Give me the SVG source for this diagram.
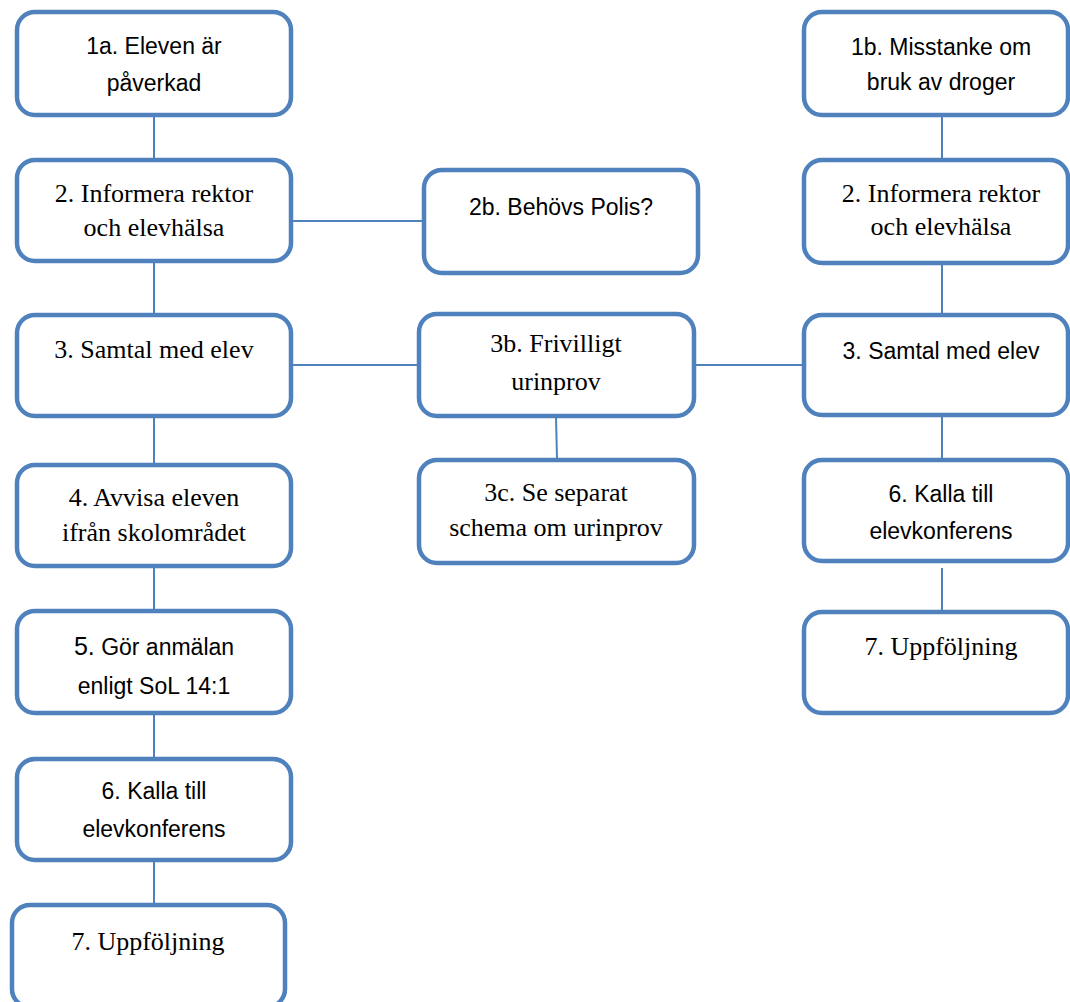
<svg xmlns="http://www.w3.org/2000/svg" width="1070" height="1002" viewBox="0 0 1070 1002">
<style>
.box{fill:#fff;stroke:#4F81BD;stroke-width:4.5}
.ln{stroke:#4F81BD;stroke-width:2;fill:none}
.s{font-family:"Liberation Sans",Arial,sans-serif;font-size:23px;fill:#000;text-anchor:middle}
.t{font-family:"Liberation Serif","Times New Roman",serif;font-size:26px;fill:#000;text-anchor:middle}
</style>
<rect width="1070" height="1002" fill="#fff"/>
<g id="connectors">
<line class="ln" x1="154" y1="116" x2="154" y2="159"/>
<line class="ln" x1="292" y1="221" x2="423" y2="221"/>
<line class="ln" x1="154" y1="262" x2="154" y2="314"/>
<line class="ln" x1="292" y1="365" x2="418" y2="365"/>
<line class="ln" x1="695" y1="365" x2="804" y2="365"/>
<line class="ln" x1="556" y1="417" x2="557" y2="459"/>
<line class="ln" x1="154" y1="417" x2="154" y2="464"/>
<line class="ln" x1="154" y1="567" x2="154" y2="610"/>
<line class="ln" x1="154" y1="714" x2="154" y2="758"/>
<line class="ln" x1="154" y1="861" x2="154" y2="904"/>
<line class="ln" x1="942" y1="116" x2="942" y2="159"/>
<line class="ln" x1="942" y1="264" x2="942" y2="314"/>
<line class="ln" x1="942" y1="416" x2="942" y2="459"/>
<line class="ln" x1="942" y1="568" x2="942" y2="611"/>
</g>
<g id="n1a"><rect class="box" x="17" y="12" width="274" height="103" rx="18"/>
<text class="s" x="154" y="54">1a. Eleven är</text><text class="s" x="154" y="91">påverkad</text></g>
<g id="n2L"><rect class="box" x="17" y="160" width="274" height="101" rx="18"/>
<text class="t" x="154" y="202">2. Informera rektor</text><text class="t" x="154" y="236">och elevhälsa</text></g>
<g id="n2b"><rect class="box" x="424" y="170" width="274" height="103" rx="18"/>
<text class="s" x="561" y="215">2b. Behövs Polis?</text></g>
<g id="n3L"><rect class="box" x="17" y="315" width="274" height="101" rx="18"/>
<text class="t" x="154" y="358">3. Samtal med elev</text></g>
<g id="n3b"><rect class="box" x="419" y="314" width="275" height="102" rx="18"/>
<text class="t" x="556" y="352">3b. Frivilligt</text><text class="t" x="556" y="390">urinprov</text></g>
<g id="n3c"><rect class="box" x="419" y="460" width="275" height="103" rx="18"/>
<text class="t" x="556" y="501">3c. Se separat</text><text class="t" x="556" y="536">schema om urinprov</text></g>
<g id="n4L"><rect class="box" x="17" y="465" width="274" height="101" rx="18"/>
<text class="t" x="154" y="506">4. Avvisa eleven</text><text class="t" x="154" y="541">ifrån skolområdet</text></g>
<g id="n5L"><rect class="box" x="17" y="611" width="274" height="102" rx="18"/>
<text class="s" x="154" y="655"><tspan font-size="25">5.</tspan> Gör anmälan</text><text class="s" x="154" y="694">enligt SoL 14:1</text></g>
<g id="n6L"><rect class="box" x="17" y="759" width="274" height="101" rx="18"/>
<text class="s" x="154" y="799">6. Kalla till</text><text class="s" x="154" y="837">elevkonferens</text></g>
<g id="n7L"><rect class="box" x="12" y="905" width="273" height="102" rx="18"/>
<text class="t" x="148" y="950">7. Uppföljning</text></g>
<g id="n1b"><rect class="box" x="804" y="12" width="264" height="103" rx="18"/>
<text class="s" x="941" y="55">1b. Misstanke om</text><text class="s" x="941" y="90">bruk av droger</text></g>
<g id="n2R"><rect class="box" x="804" y="160" width="264" height="103" rx="18"/>
<text class="t" x="941" y="202">2. Informera rektor</text><text class="t" x="941" y="235">och elevhälsa</text></g>
<g id="n3R"><rect class="box" x="804" y="315" width="264" height="100" rx="18"/>
<text class="s" x="941" y="359">3. Samtal med elev</text></g>
<g id="n6R"><rect class="box" x="804" y="460" width="264" height="101" rx="18"/>
<text class="s" x="941" y="502">6. Kalla till</text><text class="s" x="941" y="539">elevkonferens</text></g>
<g id="n7R"><rect class="box" x="804" y="612" width="264" height="101" rx="18"/>
<text class="t" x="941" y="655">7. Uppföljning</text></g>
</svg>
